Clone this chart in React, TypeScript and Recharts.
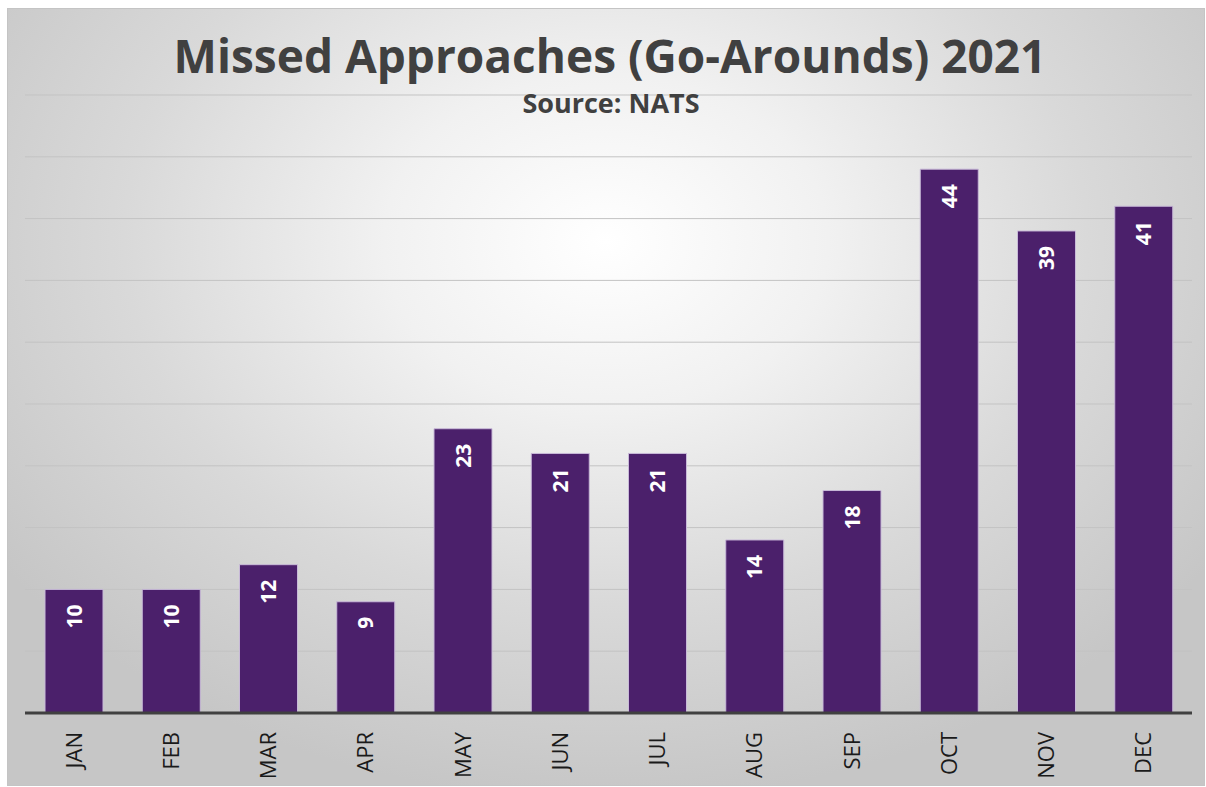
import React from "react";
import { BarChart, Bar, XAxis, YAxis, CartesianGrid, LabelList } from "recharts";

const months = ["JAN", "FEB", "MAR", "APR", "MAY", "JUN", "JUL", "AUG", "SEP", "OCT", "NOV", "DEC"];
const goArounds = [10, 10, 12, 9, 23, 21, 21, 14, 18, 44, 39, 41];
const yTicks = [0, 5, 10, 15, 20, 25, 30, 35, 40, 45, 50];

const data = months.map((m, i) => ({ month: m, value: goArounds[i] }));

const FONT = "'Open Sans', 'DejaVu Sans', sans-serif";

function MonthTick({ x, y, payload }: { x?: number; y?: number; payload?: { value: string } }) {
  return (
    <text
      x={0}
      y={0}
      transform={`translate(${x},${(y ?? 0) + 11}) rotate(-90)`}
      textAnchor="end"
      dy="0.36em"
      fill="#1a1a1a"
      fontSize={22}
      fontFamily={FONT}
    >
      {payload?.value}
    </text>
  );
}

function ValueLabel(props: any) {
  const { x, y, width, value } = props;
  const cx = x + width / 2;
  const ty = y + 15;
  return (
    <text
      x={0}
      y={0}
      transform={`translate(${cx},${ty}) rotate(-90)`}
      textAnchor="end"
      dy="0.36em"
      fill="#ffffff"
      fontSize={21}
      fontWeight={700}
      fontFamily={FONT}
    >
      {value}
    </text>
  );
}

export default function App() {
  return (
    <div
      style={{
        position: "absolute",
        left: 7,
        top: 8,
        width: 1196,
        height: 776,
        border: "1px solid #c4c4c4",
        background:
          "radial-gradient(ellipse 62% 72% at 50% 30%, #ffffff 0%, #f1f1f1 30%, #d9d9d9 65%, #c6c6c6 100%)",
        fontFamily: FONT,
      }}
    >
      <div
        style={{
          position: "absolute",
          top: 18,
          left: 4,
          width: "100%",
          textAlign: "center",
          fontSize: 46,
          fontWeight: 700,
          color: "#404040",
          lineHeight: "56px",
          zIndex: 2,
        }}
      >
        Missed Approaches (Go-Arounds) 2021
      </div>
      <div
        style={{
          position: "absolute",
          top: 78,
          left: 5,
          width: "100%",
          textAlign: "center",
          fontSize: 27,
          fontWeight: 700,
          color: "#404040",
          lineHeight: "32px",
          zIndex: 2,
        }}
      >
        Source: NATS
      </div>
      <BarChart
        width={1196}
        height={776}
        data={data}
        margin={{ top: 86, right: 12, bottom: 0, left: 17 }}
        barSize={58}
      >
        <CartesianGrid vertical={false} stroke="#c3c3c3" strokeWidth={1} />
        <YAxis hide domain={[0, 50]} ticks={yTicks} />
        <XAxis
          dataKey="month"
          height={72}
          tickLine={false}
          axisLine={{ stroke: "#404040", strokeWidth: 3 }}
          tick={<MonthTick />}
          interval={0}
        />
        <Bar dataKey="value" fill="#4b206b" stroke="#c8b9d8" strokeWidth={1} isAnimationActive={false}>
          <LabelList dataKey="value" content={<ValueLabel />} />
        </Bar>
      </BarChart>
    </div>
  );
}
